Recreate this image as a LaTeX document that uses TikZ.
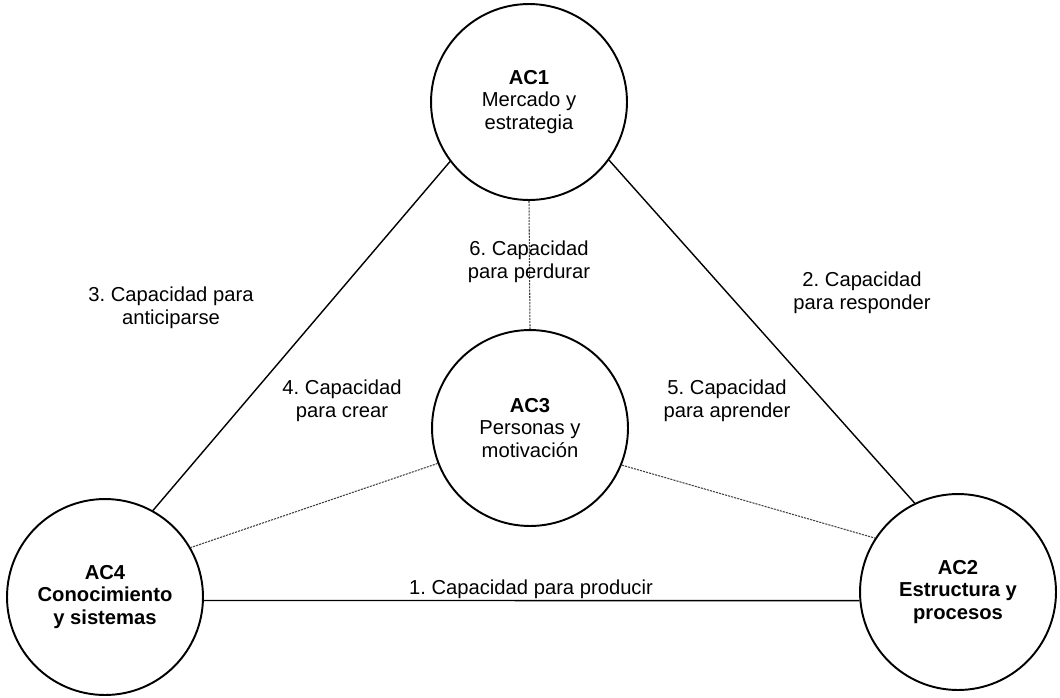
\documentclass[tikz,border=0pt]{standalone}
\usepackage{fontspec}
\setmainfont{Liberation Sans}
\frenchspacing
\begin{document}
\begin{tikzpicture}[x=0.02cm, y=-0.02cm,
  txt/.style={font=\fontsize{11.5}{13}\selectfont},
  area/.style={txt, draw, circle, line width=1.1pt, minimum size=3.92cm,
               inner sep=0pt, align=center},
  areabold/.style={area, font=\fontsize{11.5}{13}\selectfont\bfseries},
  caplabel/.style={txt, align=center, inner sep=0pt},
  link/.style={line width=0.8pt},
  softlink/.style={line width=0.6pt, black!75, dash pattern=on 1.2pt off 0.6pt}]

  % page frame
  \path[use as bounding box] (0,0) rectangle (1060,697);

  % the four capability areas
  \node[area] (ac1) at (529,102) {\textbf{AC1}\\Mercado y\\estrategia};
  \node[area] (ac3) at (530,428) {\textbf{AC3}\\Personas y\\motivación};
  \node[areabold] (ac4) at (105,597) {AC4\\Conocimiento\\y sistemas};
  \node[areabold] (ac2) at (958,592) {AC2\\Estructura y\\procesos};

  % outer triangle
  \draw[link] (ac1.217) -- (ac4.61);
  \draw[link] (ac1.324) -- (ac2.116);
  \draw[link] (ac4.-2) -- (ac2.185);

  % links to the central area
  \draw[softlink] (ac1.270) -- (ac3.90);
  \draw[softlink] (ac3.201) -- (ac4.30);
  \draw[softlink] (ac3.338) -- (ac2.147);

  % capability labels
  \node[caplabel] (lab1) at (531,589) {1. Capacidad para producir};
  \node[caplabel] (lab2) at (862,293) {2. Capacidad\\para responder};
  \node[caplabel] (lab3) at (171,308) {3. Capacidad para\\anticiparse};
  \node[caplabel] (lab4) at (342,401) {4. Capacidad\\para crear};
  \node[caplabel] (lab5) at (727,401) {5. Capacidad\\para aprender};
  \node[caplabel] (lab6) at (529,262) {6. Capacidad\\para perdurar};
\end{tikzpicture}
\end{document}
